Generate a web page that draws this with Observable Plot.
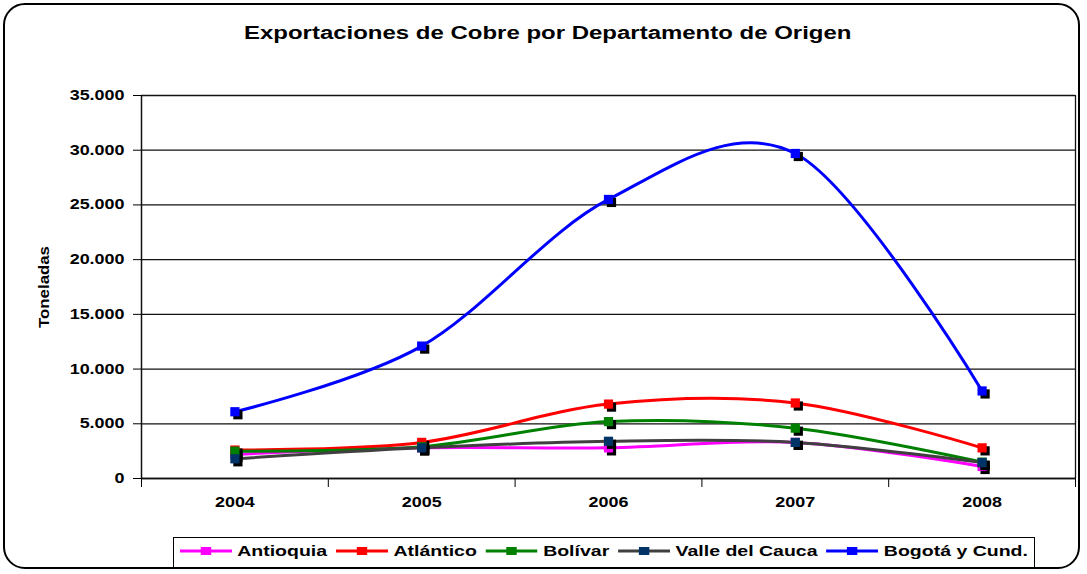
<!DOCTYPE html>
<html>
<head>
<meta charset="utf-8">
<script src="https://cdn.jsdelivr.net/npm/d3@7"></script>
<script src="https://cdn.jsdelivr.net/npm/@observablehq/plot@0.6"></script>
<style>
  html, body { margin: 0; padding: 0; background: #fff; width: 1087px; height: 574px; overflow: hidden; }
  body { position: relative; font-family: "Liberation Sans", Arial, sans-serif; }
  #frame { position: absolute; left: 3px; top: 3px; width: 1077px; height: 566px; border: 2px solid #000; border-radius: 22px; box-sizing: border-box; }
  #title { position: absolute; left: 0; top: 23px; width: 1087px; text-align: center; font-weight: bold; font-size: 17.5px; color: #000; }
  #title span { display: inline-block; transform: scaleX(1.37); transform-origin: center; margin-left: 8px; }
  #chart { position: absolute; left: 0; top: 70px; }
  #legend { position: absolute; left: 173px; top: 537px; width: 862px; height: 31px; border: 1.5px solid #000; box-sizing: border-box; background: #fff; }
  #legend .inner { position: absolute; left: 6px; top: 4px; display: flex; align-items: center; transform: scaleX(1.3); transform-origin: left center; white-space: nowrap; }
  #legend .item { display: flex; align-items: center; margin-right: 7px; font-weight: bold; font-size: 15px; }
  #legend svg { margin-right: 4px; }
</style>
</head>
<body>
<div id="frame"></div>
<div id="title"><span>Exportaciones de Cobre por Departamento de Origen</span></div>
<div id="chart"></div>
<div id="legend"><div class="inner"></div></div>
<script>
// ---- data ----
const years = [2004, 2005, 2006, 2007, 2008];
const seriesNames = ["Antioquia", "Atlántico", "Bolívar", "Valle del Cauca", "Bogotá y Cund."];
const antioquia = [2200, 2800, 2800, 3300, 1100];
const atlantico = [2600, 3300, 6800, 6900, 2800];
const bolivar   = [2500, 2900, 5200, 4600, 1500];
const valle     = [1800, 2800, 3400, 3300, 1450];
const bogota    = [6100, 12100, 25500, 29700, 8000];
const lineColors   = ["#FF00FF", "#FF0000", "#008000", "#404040", "#0000FF"];
const markerColors = ["#FF00FF", "#FF0000", "#008000", "#003366", "#0000FF"];
const yTicks = [0, 5000, 10000, 15000, 20000, 25000, 30000, 35000];

const valuesBySeries = [antioquia, atlantico, bolivar, valle, bogota];
const data = [];
seriesNames.forEach((s, i) => years.forEach((y, j) => data.push({series: s, year: y, value: valuesBySeries[i][j]})));

const loc = d3.formatLocale({decimal: ",", thousands: ".", grouping: [3], currency: ["", ""]});
const fmt = loc.format(",");
const boundaries = [2003.5, 2004.5, 2005.5, 2006.5, 2007.5, 2008.5];

const colorLine = d3.scaleOrdinal(seriesNames, lineColors);
const colorMarker = d3.scaleOrdinal(seriesNames, markerColors);

const marks = [
  Plot.gridY({ticks: yTicks, stroke: "#111", strokeOpacity: 1, strokeWidth: 1.3}),
  Plot.ruleX([2008.5], {stroke: "#111", strokeWidth: 1.3}),
  Plot.ruleY([0], {stroke: "#111", strokeWidth: 1.5}),
  Plot.ruleX([2003.5], {stroke: "#111", strokeWidth: 1.5}),
  Plot.axisY({ticks: yTicks, tickFormat: fmt, tickSize: 8, tickPadding: 9, label: "Toneladas", labelAnchor: "center", labelArrow: "none", labelOffset: 103, fontSize: 14}),
  Plot.axisX({ticks: boundaries, tickFormat: () => "", tickSize: 9, label: null}),
  Plot.axisX({ticks: years, tickFormat: d => String(d), tickSize: 0, tickPadding: 19, label: null, fontSize: 14})
];
seriesNames.forEach(s => {
  const d = data.filter(r => r.series === s);
  marks.push(Plot.line(d, {x: "year", y: "value", stroke: colorLine(s), strokeWidth: 3, curve: "cardinal", tension: 0}));
});
seriesNames.forEach(s => {
  const d = data.filter(r => r.series === s);
  marks.push(Plot.dot(d, {x: "year", y: "value", symbol: "square", r: 5.2, fill: "#000", stroke: "none", dx: 3, dy: 3}));
  marks.push(Plot.dot(d, {x: "year", y: "value", symbol: "square", r: 5.2, fill: colorMarker(s), stroke: "none"}));
});

const chart = Plot.plot({
  width: 1087,
  height: 440,
  marginTop: 25,
  marginBottom: 32,
  marginLeft: 141,
  marginRight: 12,
  x: {type: "linear", domain: [2003.5, 2008.5]},
  y: {domain: [0, 35000]},
  style: {fontFamily: "'Liberation Sans', Arial, sans-serif", fontWeight: "bold", fontSize: "14px", color: "#000", background: "transparent"},
  marks
});
document.getElementById("chart").appendChild(chart);

// widen the text horizontally like the reference rendering
chart.querySelectorAll("text").forEach(t => {
  const rotated = (t.getAttribute("transform") || "").includes("rotate");
  if (rotated) t.style.fontSize = "15px";
  const len = t.getComputedTextLength();
  if (!len) return;
  t.setAttribute("textLength", len * (rotated ? 1.12 : 1.28));
  t.setAttribute("lengthAdjust", "spacingAndGlyphs");
});

// legend
const inner = document.querySelector("#legend .inner");
seriesNames.forEach((s, i) => {
  const item = document.createElement("div");
  item.className = "item";
  item.innerHTML = `<svg width="40" height="12"><line x1="0" x2="40" y1="6" y2="6" stroke="${lineColors[i]}" stroke-width="3"/><rect x="16" y="2" width="8" height="8" fill="${markerColors[i]}"/></svg><span>${s}</span>`;
  inner.appendChild(item);
});
</script>
</body>
</html>
